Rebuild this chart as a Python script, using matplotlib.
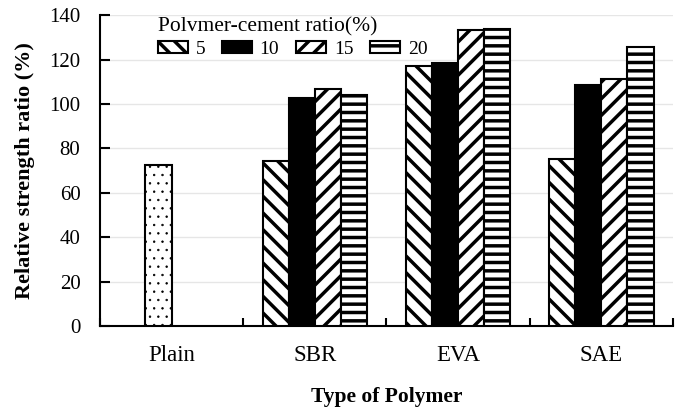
import numpy as np
import matplotlib as mpl
import matplotlib.pyplot as plt

plt.rcParams['font.family'] = ['Liberation Serif', 'DejaVu Serif']
plt.rcParams['hatch.linewidth'] = 2.5

categories = ["Plain", "SBR", "EVA", "SAE"]
ratios = ["5", "10", "15", "20"]
plain_value = 72.5
# SBR, EVA, SAE for each polymer-cement ratio
r5 = [74.3, 117.3, 75.4]
r10 = [102.6, 118.5, 108.6]
r15 = [106.8, 133.3, 111.3]
r20 = [103.8, 133.6, 125.8]

series = [r5, r10, r15, r20]
hatches = ['\\\\', '', '//', '--']
faces = ['white', 'black', 'white', 'white']

fig = plt.figure(figsize=(6.84, 4.08), dpi=100)
ax = fig.add_axes([0.146, 0.201, 0.838, 0.762])

w = 0.182
centers = np.arange(len(categories)) + 0.5

# plain mortar sits in the second slot, fine dots
with mpl.rc_context({'hatch.linewidth': 0.5}):
    ax.bar(centers[0] + (1 - 1.5) * w, plain_value, w, color='white',
           edgecolor='black', hatch='..', linewidth=1.5, zorder=3)

for i, vals in enumerate(series):
    ax.bar(centers[1:] + (i - 1.5) * w, vals, w, color=faces[i],
           edgecolor='black', hatch=hatches[i], linewidth=1.5,
           label=ratios[i], zorder=3)

ax.set_xlim(0, 4)
ax.set_ylim(0, 140)
ax.set_yticks(np.arange(0, 141, 20))
ax.set_xticks(np.arange(0, 5))
ax.set_xticklabels([])
ax.set_xticks(centers, minor=True)
ax.set_xticklabels(categories, minor=True)
ax.tick_params(axis='x', which='minor', length=0, pad=14, labelsize=16.5)
ax.tick_params(axis='x', which='major', direction='in', length=6, width=1.5)
ax.tick_params(axis='y', direction='in', length=7, width=1.5, labelsize=15, pad=14)

for s in ['top', 'right']:
    ax.spines[s].set_visible(False)
ax.spines['left'].set_linewidth(1.5)
ax.spines['bottom'].set_linewidth(1.5)
ax.yaxis.grid(True, color='#e6e6e6', linewidth=1)
ax.set_axisbelow(True)

ax.set_ylabel("Relative strength ratio (%)", fontsize=16, fontweight='bold', labelpad=10)
ax.set_xlabel("Type of Polymer", fontsize=15.5, fontweight='bold', labelpad=15)

leg = ax.legend(title="Polvmer-cement ratio(%)", ncol=4, loc='upper left',
                bbox_to_anchor=(148 / 684, 1 - 8 / 408),
                bbox_transform=fig.transFigure, borderpad=0,
                frameon=False, fontsize=14, title_fontsize=15.5,
                handlelength=1.55, handleheight=0.62, labelspacing=0.2,
                columnspacing=0.85, handletextpad=0.4)
leg._legend_box.align = "left"

fig.savefig("out.png", dpi=100)
